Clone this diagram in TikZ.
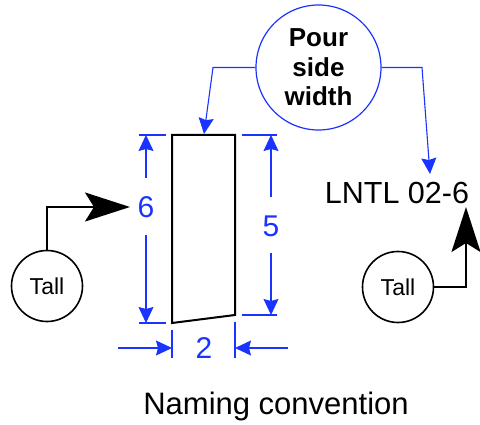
\documentclass[tikz,border=0pt]{standalone}
\usepackage{fontspec}
\setmainfont{Liberation Sans}
\usetikzlibrary{arrows.meta}
\definecolor{dimblue}{RGB}{26,51,255}
\tikzset{
  dimline/.style={draw=dimblue, line width=1.1pt},
  dimarrow/.style={dimline, -{Stealth[length=16pt,width=15pt,inset=2pt]}},
  bigarrow/.style={draw=black, line width=2pt, -{Stealth[length=45pt,width=29pt,inset=9pt]}},
  dimnum/.style={text=dimblue, font=\fontsize{30}{32}\selectfont, inner sep=0pt},
  tallnode/.style={draw=black, line width=1.6pt, circle, minimum size=71pt, inner sep=0pt, font=\fontsize{23}{25}\selectfont},
  pournode/.style={draw=dimblue, line width=1.2pt, circle, minimum size=125pt, inner sep=0pt, align=center, font=\fontsize{26}{29.5}\selectfont\bfseries},
  outline/.style={draw=black, line width=2pt, line join=miter}
}
\begin{document}
\begin{tikzpicture}[x=1pt,y=-1pt]
\useasboundingbox (0,0) rectangle (480,425);
% trapezoid
\coordinate (tl) at (172,135);
\coordinate (tr) at (235,135);
\coordinate (br) at (235,315);
\coordinate (bl) at (172,323);
\draw[outline] (tl) -- (tr) -- (br) -- (bl) -- cycle;
% pour side width
\node[pournode] (pour) at (318.5,67.5) {Pour\\side\\width};
\node[font=\fontsize{30.5}{32}\selectfont, inner sep=0pt] (lntl) at (397,193) {LNTL 02-6};
\coordinate (pl) at (213,67.5);
\coordinate (ptop) at (204,134);
\coordinate (pr) at (422,67.5);
\coordinate (plntl) at (430,174);
\draw[dimarrow] (pour.west) -- (pl) -- (ptop);
\draw[dimarrow] (pour.east) -- (pr) -- (plntl);
% left dimension 6
\node[dimnum] (six) at (146,207) {6};
\coordinate (e6t1) at (139,135); \coordinate (e6t2) at (166,135);
\coordinate (e6b1) at (139,323); \coordinate (e6b2) at (166,323);
\draw[dimline] (e6t1) -- (e6t2);
\draw[dimline] (e6b1) -- (e6b2);
\coordinate (d6u) at (146,178); \coordinate (d6d) at (146,235);
\coordinate (d6top) at (146,135); \coordinate (d6bot) at (146,323);
\draw[dimarrow] (d6u) -- (d6top);
\draw[dimarrow] (d6d) -- (d6bot);
% right dimension 5
\node[dimnum] (five) at (271,226) {5};
\coordinate (e5t1) at (242,135); \coordinate (e5t2) at (277,135);
\coordinate (e5b1) at (242,315); \coordinate (e5b2) at (277,315);
\draw[dimline] (e5t1) -- (e5t2);
\draw[dimline] (e5b1) -- (e5b2);
\coordinate (d5u) at (271,197); \coordinate (d5d) at (271,253);
\coordinate (d5top) at (271,135); \coordinate (d5bot) at (271,315);
\draw[dimarrow] (d5u) -- (d5top);
\draw[dimarrow] (d5d) -- (d5bot);
% bottom dimension 2
\node[dimnum] (two) at (204,348) {2};
\coordinate (e2l1) at (172,330); \coordinate (e2l2) at (172,358);
\coordinate (e2r1) at (235,322); \coordinate (e2r2) at (235,358);
\draw[dimline] (e2l1) -- (e2l2);
\draw[dimline] (e2r1) -- (e2r2);
\coordinate (d2ls) at (118,348); \coordinate (d2le) at (172,348);
\coordinate (d2rs) at (288,348); \coordinate (d2re) at (235,348);
\draw[dimarrow] (d2ls) -- (d2le);
\draw[dimarrow] (d2rs) -- (d2re);
% Tall nodes
\node[tallnode] (tall1) at (47,286) {Tall};
\node[tallnode] (tall2) at (398,287) {Tall};
\coordinate (tip1) at (130,207);
\coordinate (tip2) at (466,207);
\draw[bigarrow] (tall1.north) |- (tip1);
\draw[bigarrow] (tall2.east) -| (tip2);
% caption
\node[font=\fontsize{31}{33}\selectfont, inner sep=0pt, anchor=base] (cap) at (276,414) {Naming convention};
\end{tikzpicture}
\end{document}
